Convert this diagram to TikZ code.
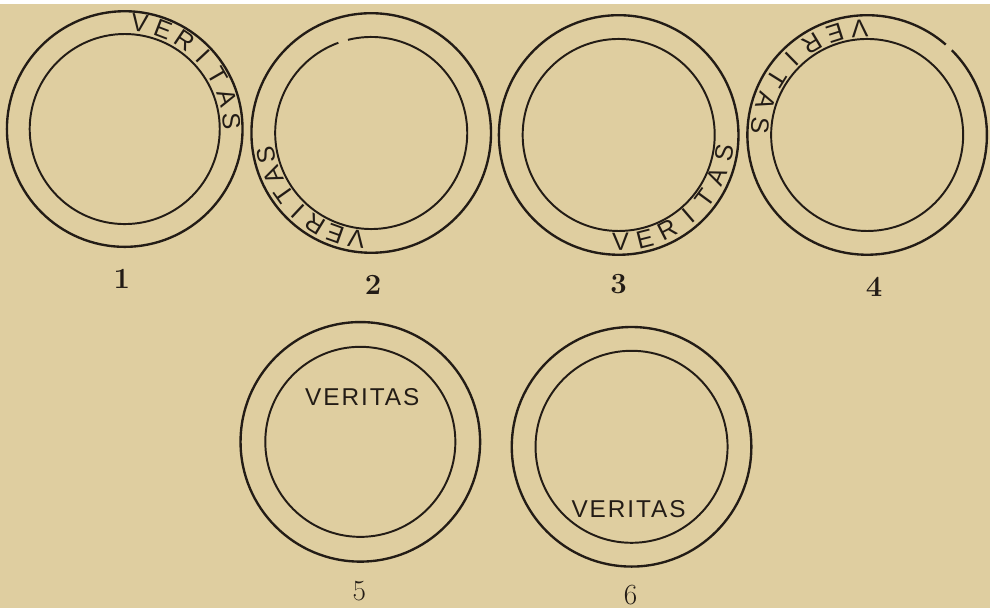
\documentclass[tikz,border=0pt]{standalone}
\usepackage{fontspec}
\usepackage{tikz}
\newfontfamily\stampfont[LetterSpace=8]{Liberation Sans}
\newfontfamily\ringfont{Liberation Sans}
\definecolor{Paper}{RGB}{223,206,160}
\definecolor{Ink}{RGB}{35,28,22}
\tikzset{
	outer/.style={draw=Ink, line width=1.7pt},
	inner/.style={draw=Ink, line width=1.4pt},
	ringletter/.style={font=\ringfont\fontsize{18}{18}\selectfont, text=Ink, inner sep=0pt},
	stamptext/.style={font=\stampfont\fontsize{17.5}{17.5}\selectfont, text=Ink, inner sep=0pt},
	plateno/.style={font=\fontsize{21}{21}\selectfont, text=Ink}
}

\begin{document}
\begin{tikzpicture}[x=0.025cm, y=0.025cm]
		\fill[Paper] (0,0) rectangle (1000,610);
		\coordinate (c1) at (126,484);
		\coordinate (c2) at (375,480);
		\coordinate (c3) at (625,478);
		\coordinate (c4) at (876,478);
		\coordinate (c5) at (364,168);
		\coordinate (c6) at (638,163);
		% rings
		\draw[outer] (c1) circle (119);
		\draw[inner] (c1) circle (96);
		\draw[outer] (c2) circle (121);
		\draw[inner] ([shift={(110:97)}]c2) arc[start angle=110, end angle=464, radius=97];
		\draw[outer] (c3) circle (121);
		\draw[inner] (c3) circle (97);
		\draw[outer] ([shift={(49:121)}]c4) arc[start angle=49, end angle=405, radius=121];
		\draw[inner] (c4) circle (97);
		\draw[outer] (c5) circle (121);
		\draw[inner] (c5) circle (96);
		\draw[outer] (c6) circle (121);
		\draw[inner] (c6) circle (97);
		% lettering round the ring
		\foreach \k/\start/\step/\turn in {1/82/-13/-90, 2/262/-11.7/-90, 3/271/13.2/90, 4/94/13.5/90}
		\foreach \ch [count=\i from 0] in {V,E,R,I,T,A,S} {
			\pgfmathsetmacro\ang{\start+\step*\i}
			\node[ringletter, rotate=\ang+\turn] (t\k-\i) at ([shift={(\ang:108)}]c\k) {\ch};
		}
		\node[stamptext] (t5) at (366,213) {VERITAS};
		\node[stamptext] (t6) at (635,100) {VERITAS};
		% numbers
		\foreach \k/\p in {1/{(123,333)}, 2/{(377,327)}, 3/{(625,327)}, 4/{(883,325)}}
		\node[plateno, font=\bfseries\fontsize{21}{21}\selectfont] (n\k) at \p {\k};
		\node[plateno] (n5) at (363,17) {5};
		\node[plateno] (n6) at (637,13) {6};
	\end{tikzpicture}
\end{document}
